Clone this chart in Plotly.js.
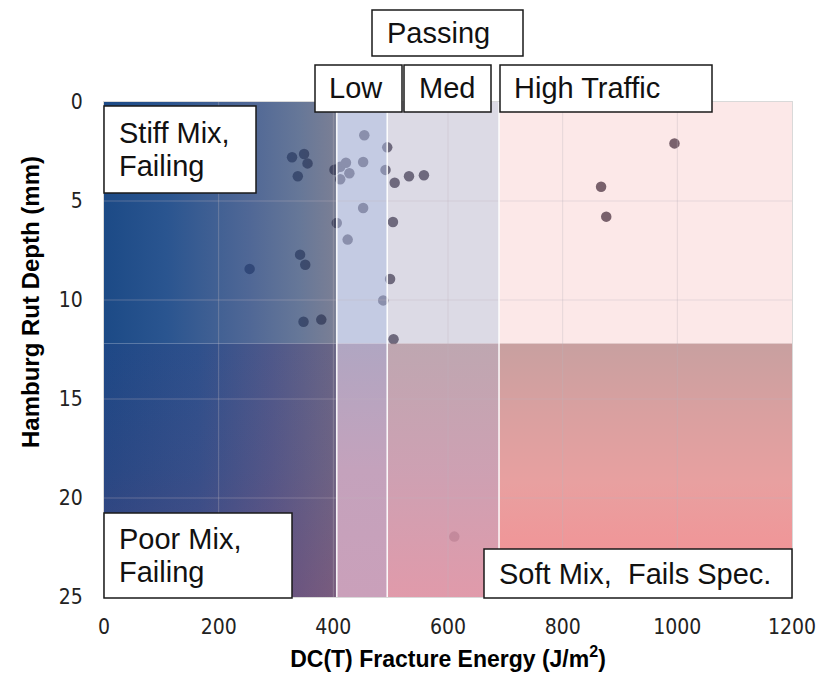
<!DOCTYPE html>
<html><head><meta charset="utf-8">
<script src="https://cdn.plot.ly/plotly-3.0.1.min.js"></script>
<style>html,body{margin:0;padding:0;background:#fff;}#chart{width:820px;height:682px;}</style>
</head><body><div id="chart"></div>
<script>
// ---------- data ----------
const fractureEnergy = [454, 494, 328, 349, 355, 338, 402, 412, 422, 428, 412, 452, 491, 507, 532, 558,
                        452, 406, 504, 425, 342, 351, 254, 499, 487, 348, 379, 505, 995, 867, 876, 611];
const rutDepth       = [1.68, 2.29, 2.79, 2.63, 3.10, 3.75, 3.42, 3.27, 3.07, 3.60, 3.90, 3.03, 3.43, 4.08, 3.75, 3.70,
                        5.35, 6.11, 6.06, 6.95, 7.71, 8.22, 8.43, 8.94, 10.02, 11.10, 10.99, 11.98, 2.09, 4.28, 5.79, 21.95];
const xTicks = [0, 200, 400, 600, 800, 1000, 1200];
const yTicks = [0, 5, 10, 15, 20, 25];
const energyEdges = [0, 406, 494, 689, 1200];   // zone limits, J/m2
const rutLimit = 12.2;                          // mm
const depthMax = 25;                            // mm
const topLabels = ['Passing', 'Low', 'Med', 'High Traffic'];
const cornerLabels = [['Stiff Mix,', 'Failing'], ['Poor Mix,', 'Failing'], ['Soft Mix,\u00a0 Fails Spec.']];

// ---------- layout geometry (pixels) ----------
const W = 820, H = 682;
const P = {l: 104, r: 792, t: 102, b: 597};
const px = v => (v - P.l) / (P.r - P.l);
const py = v => (P.b - v) / (P.b - P.t);

function zone(x0, x1, y0, y1, opts) {
  const t = {
    x: [x0, x1, x1, x0, x0], y: [y0, y0, y1, y1, y0],
    type: 'scatter', mode: 'lines', line: {width: 0}, fill: 'toself',
    hoverinfo: 'skip', showlegend: false
  };
  if (opts.color) t.fillcolor = opts.color;
  if (opts.grad) t.fillgradient = opts.grad;
  return t;
}
const [e0, e1, e2, e3, e4] = energyEdges;

const traces = [];
// points (drawn beneath translucent zone tints)
traces.push({
  x: fractureEnergy, y: rutDepth, type: 'scatter', mode: 'markers',
  marker: {color: 'rgb(60,55,70)', size: 10.5, line: {width: 0}},
  showlegend: false, hoverinfo: 'x+y'
});
// upper zones (rut depth within limit)
traces.push(zone(e0, e1, 0, rutLimit, {grad: {type: 'horizontal', start: e0, stop: e1, colorscale: [
  [0, 'rgba(28,74,134,1)'], [0.27, 'rgba(31,76,138,0.95)'], [0.63, 'rgba(47,75,130,0.84)'],
  [0.84, 'rgba(59,81,123,0.78)'], [1, 'rgba(72,78,108,0.72)']]}}));
traces.push(zone(e1, e2, 0, rutLimit, {color: 'rgba(171,181,215,0.70)'}));
traces.push(zone(e2, e3, 0, rutLimit, {color: 'rgba(175,170,195,0.44)'}));
traces.push(zone(e3, e4, 0, rutLimit, {color: 'rgba(246,186,186,0.33)'}));
// lower zones (rut depth beyond limit)
traces.push(zone(e0, e1, rutLimit, depthMax, {grad: {type: 'horizontal', start: e0, stop: e1, colorscale: [
  [0, 'rgb(30,72,134)'], [0.4, 'rgb(46,80,140)'], [0.72, 'rgb(78,88,138)'], [1, 'rgb(106,102,134)']]}}));
traces.push(zone(e0, e1, rutLimit, depthMax, {grad: {type: 'vertical', start: rutLimit, stop: depthMax, colorscale: [
  [0, 'rgba(160,60,100,0)'], [0.5, 'rgba(160,60,100,0.08)'], [1, 'rgba(170,60,100,0.24)']]}}));
traces.push(zone(e1, e2, rutLimit, depthMax, {grad: {type: 'vertical', start: rutLimit, stop: depthMax, colorscale: [
  [0, 'rgb(176,166,194)'], [0.5, 'rgb(196,162,188)'], [1, 'rgb(202,160,186)']]}}));
traces.push(zone(e2, e3, rutLimit, depthMax, {grad: {type: 'vertical', start: rutLimit, stop: depthMax, colorscale: [
  [0, 'rgba(183,157,168,0.9)'], [0.5, 'rgba(200,150,170,0.9)'], [1, 'rgba(221,143,161,0.9)']]}}));
traces.push(zone(e3, e4, rutLimit, depthMax, {grad: {type: 'vertical', start: rutLimit, stop: depthMax, colorscale: [
  [0, 'rgb(200,160,160)'], [0.25, 'rgb(216,160,160)'], [0.55, 'rgb(232,160,160)'], [0.8, 'rgb(240,150,152)'], [1, 'rgb(244,144,146)']]}}));

// faint grid on top of the tints
const gx = [], gy = [];
xTicks.slice(1, -1).forEach(v => { gx.push(v, v, null); gy.push(0, depthMax, null); });
yTicks.slice(1, -1).forEach(v => { gx.push(0, 1200, null); gy.push(v, v, null); });
traces.push({x: gx, y: gy, type: 'scatter', mode: 'lines', line: {color: 'rgba(190,180,190,0.35)', width: 1},
  hoverinfo: 'skip', showlegend: false, connectgaps: false});
// white separators between traffic bands
const sx = [], sy = [];
energyEdges.slice(1, -1).forEach(v => { sx.push(v, v, null); sy.push(0, depthMax, null); });
traces.push({x: sx, y: sy, type: 'scatter', mode: 'lines', line: {color: 'rgba(255,255,255,0.9)', width: 1.6},
  hoverinfo: 'skip', showlegend: false});

// ---------- label boxes ----------
const boxFont = {family: 'Liberation Sans, Arial, sans-serif', size: 29, color: '#111'};
const boxes = [
  {x0: 372, y0: 10, x1: 523, y1: 56, tx: 385, lines: [topLabels[0]], ly: [33]},
  {x0: 315, y0: 65, x1: 402, y1: 112, tx: 327, lines: [topLabels[1]], ly: [88.5]},
  {x0: 404, y0: 65, x1: 491, y1: 112, tx: 417, lines: [topLabels[2]], ly: [88.5]},
  {x0: 500, y0: 65, x1: 712, y1: 112, tx: 512, lines: [topLabels[3]], ly: [88.5]},
  {x0: 104, y0: 106, x1: 256, y1: 193, tx: 117, lines: cornerLabels[0], ly: [133, 166]},
  {x0: 104, y0: 513, x1: 292, y1: 598, tx: 117, lines: cornerLabels[1], ly: [539, 572]},
  {x0: 484, y0: 549, x1: 792, y1: 598, tx: 497, lines: cornerLabels[2], ly: [573.5]}
];
const shapes = [], annotations = [];
boxes.forEach(b => {
  shapes.push({type: 'rect', xref: 'paper', yref: 'paper', layer: 'above',
    x0: px(b.x0), x1: px(b.x1), y0: py(b.y1), y1: py(b.y0),
    fillcolor: '#ffffff', line: {color: '#1a1a1a', width: 1.5}});
  b.lines.forEach((t, i) => annotations.push({xref: 'paper', yref: 'paper', x: px(b.tx), y: py(b.ly[i]),
    xanchor: 'left', yanchor: 'middle', text: t, showarrow: false, font: boxFont}));
});
// y-axis title (placed like the reference, off-centre)
annotations.push({xref: 'paper', yref: 'paper', x: px(30), y: py(302), xanchor: 'center', yanchor: 'middle',
  textangle: -90, showarrow: false, text: '<b>Hamburg Rut Depth (mm)</b>',
  font: {family: 'Liberation Sans, Arial, sans-serif', size: 24, color: '#000'}});

const tickFont = {family: 'Liberation Sans Narrow, DejaVu Sans Condensed, Liberation Sans, sans-serif', size: 21, color: '#222'};
const layout = {
  width: W, height: H,
  margin: {l: P.l, r: W - P.r, t: P.t, b: H - P.b, pad: 0},
  paper_bgcolor: '#ffffff', plot_bgcolor: '#ffffff',
  showlegend: false,
  xaxis: {range: [0, 1200], tickvals: xTicks, ticks: '', showgrid: false, zeroline: false,
    showline: true, mirror: true, linecolor: '#d9d9d9', linewidth: 1,
    tickfont: tickFont, ticklabelstandoff: 11, automargin: false,
    title: {text: '<b>DC(T) Fracture Energy (J/m<sup>2</sup>)</b>', standoff: 12,
      font: {family: 'Liberation Sans, Arial, sans-serif', size: 23, color: '#000'}}},
  yaxis: {range: [depthMax, 0], tickvals: yTicks, ticks: '', showgrid: false, zeroline: false,
    showline: true, mirror: true, linecolor: '#d9d9d9', linewidth: 1,
    tickfont: tickFont, ticklabelstandoff: 16, automargin: false},
  shapes: shapes, annotations: annotations
};
Plotly.newPlot('chart', traces, layout, {staticPlot: true, displayModeBar: false});
</script></body></html>
